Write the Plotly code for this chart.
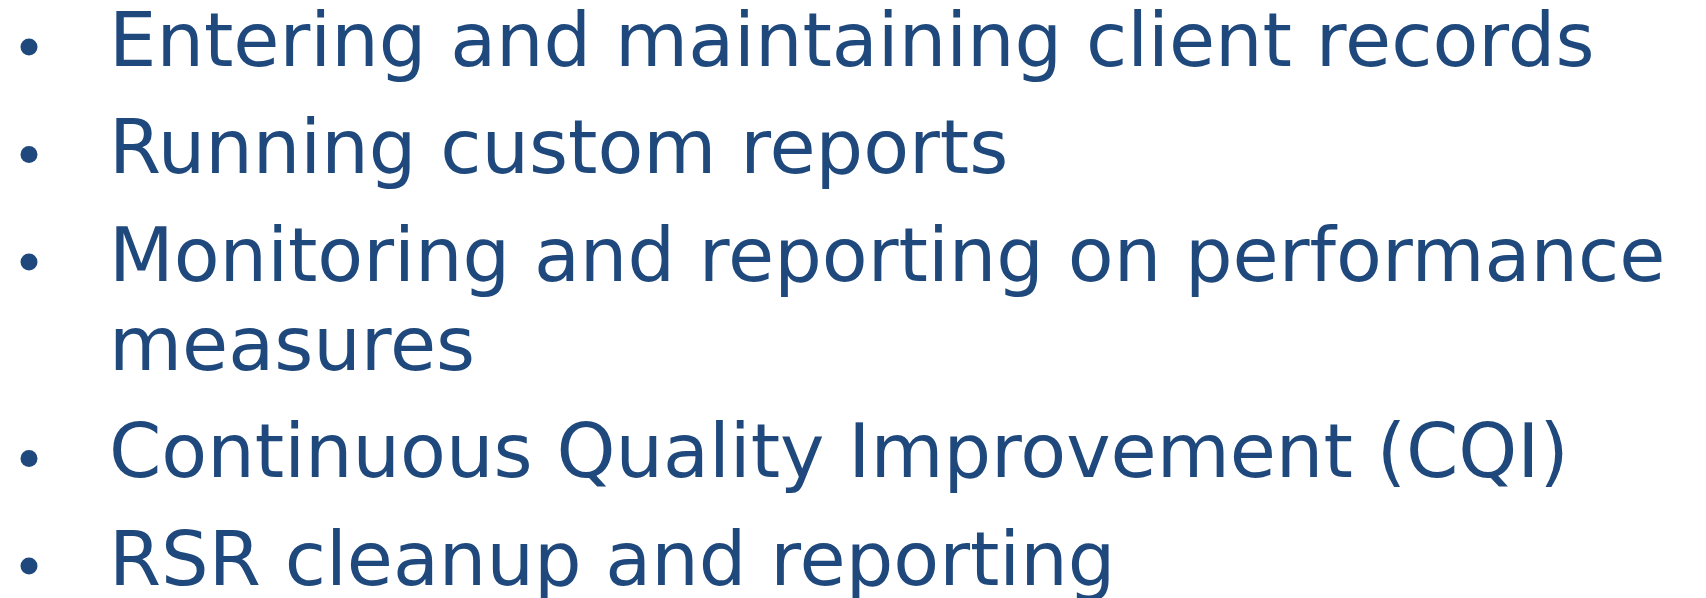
import plotly.graph_objects as go

# Text lines of the bulleted list (a wrapped item continues on the next line)
lines = [
    "Entering and maintaining client records",
    "Running custom reports",
    "Monitoring and reporting on performance",
    "measures",
    "Continuous Quality Improvement (CQI)",
    "RSR cleanup and reporting",
]
starts_bullet = [True, True, True, False, True, True]

# layout constants (pixels)
W, H = 1706, 598
FONT_SIZE = 75
COLOR = "#1F497D"
TEXT_X = 99
BULLET_X = 21
FIRST_BASELINE = 66
PARA_GAP = 107.5
WRAP_GAP = 89
CENTER_OFFSET = 34.5   # baseline -> annotation centre
BULLET_OFFSET = 27     # baseline -> bullet centre

baselines = []
y = FIRST_BASELINE
for i, b in enumerate(starts_bullet):
    if i > 0:
        y += PARA_GAP if b else WRAP_GAP
    baselines.append(y)

fig = go.Figure()
bx = [BULLET_X for b in starts_bullet if b]
by = [bl - BULLET_OFFSET for bl, b in zip(baselines, starts_bullet) if b]
fig.add_trace(go.Scatter(x=bx, y=by, mode="markers",
                         marker=dict(size=17, color=COLOR, line=dict(width=0)),
                         hoverinfo="skip", showlegend=False))

for t, bl in zip(lines, baselines):
    fig.add_annotation(x=TEXT_X, y=bl - CENTER_OFFSET, xref="x", yref="y", text=t,
                       showarrow=False, xanchor="left", yanchor="middle",
                       font=dict(family="DejaVu Sans", size=FONT_SIZE, color=COLOR))

fig.update_xaxes(range=[0, W], visible=False)
fig.update_yaxes(range=[H, 0], visible=False)
fig.update_layout(width=W, height=H, margin=dict(l=0, r=0, t=0, b=0),
                  plot_bgcolor="white", paper_bgcolor="white")
fig.write_html("out.html")
